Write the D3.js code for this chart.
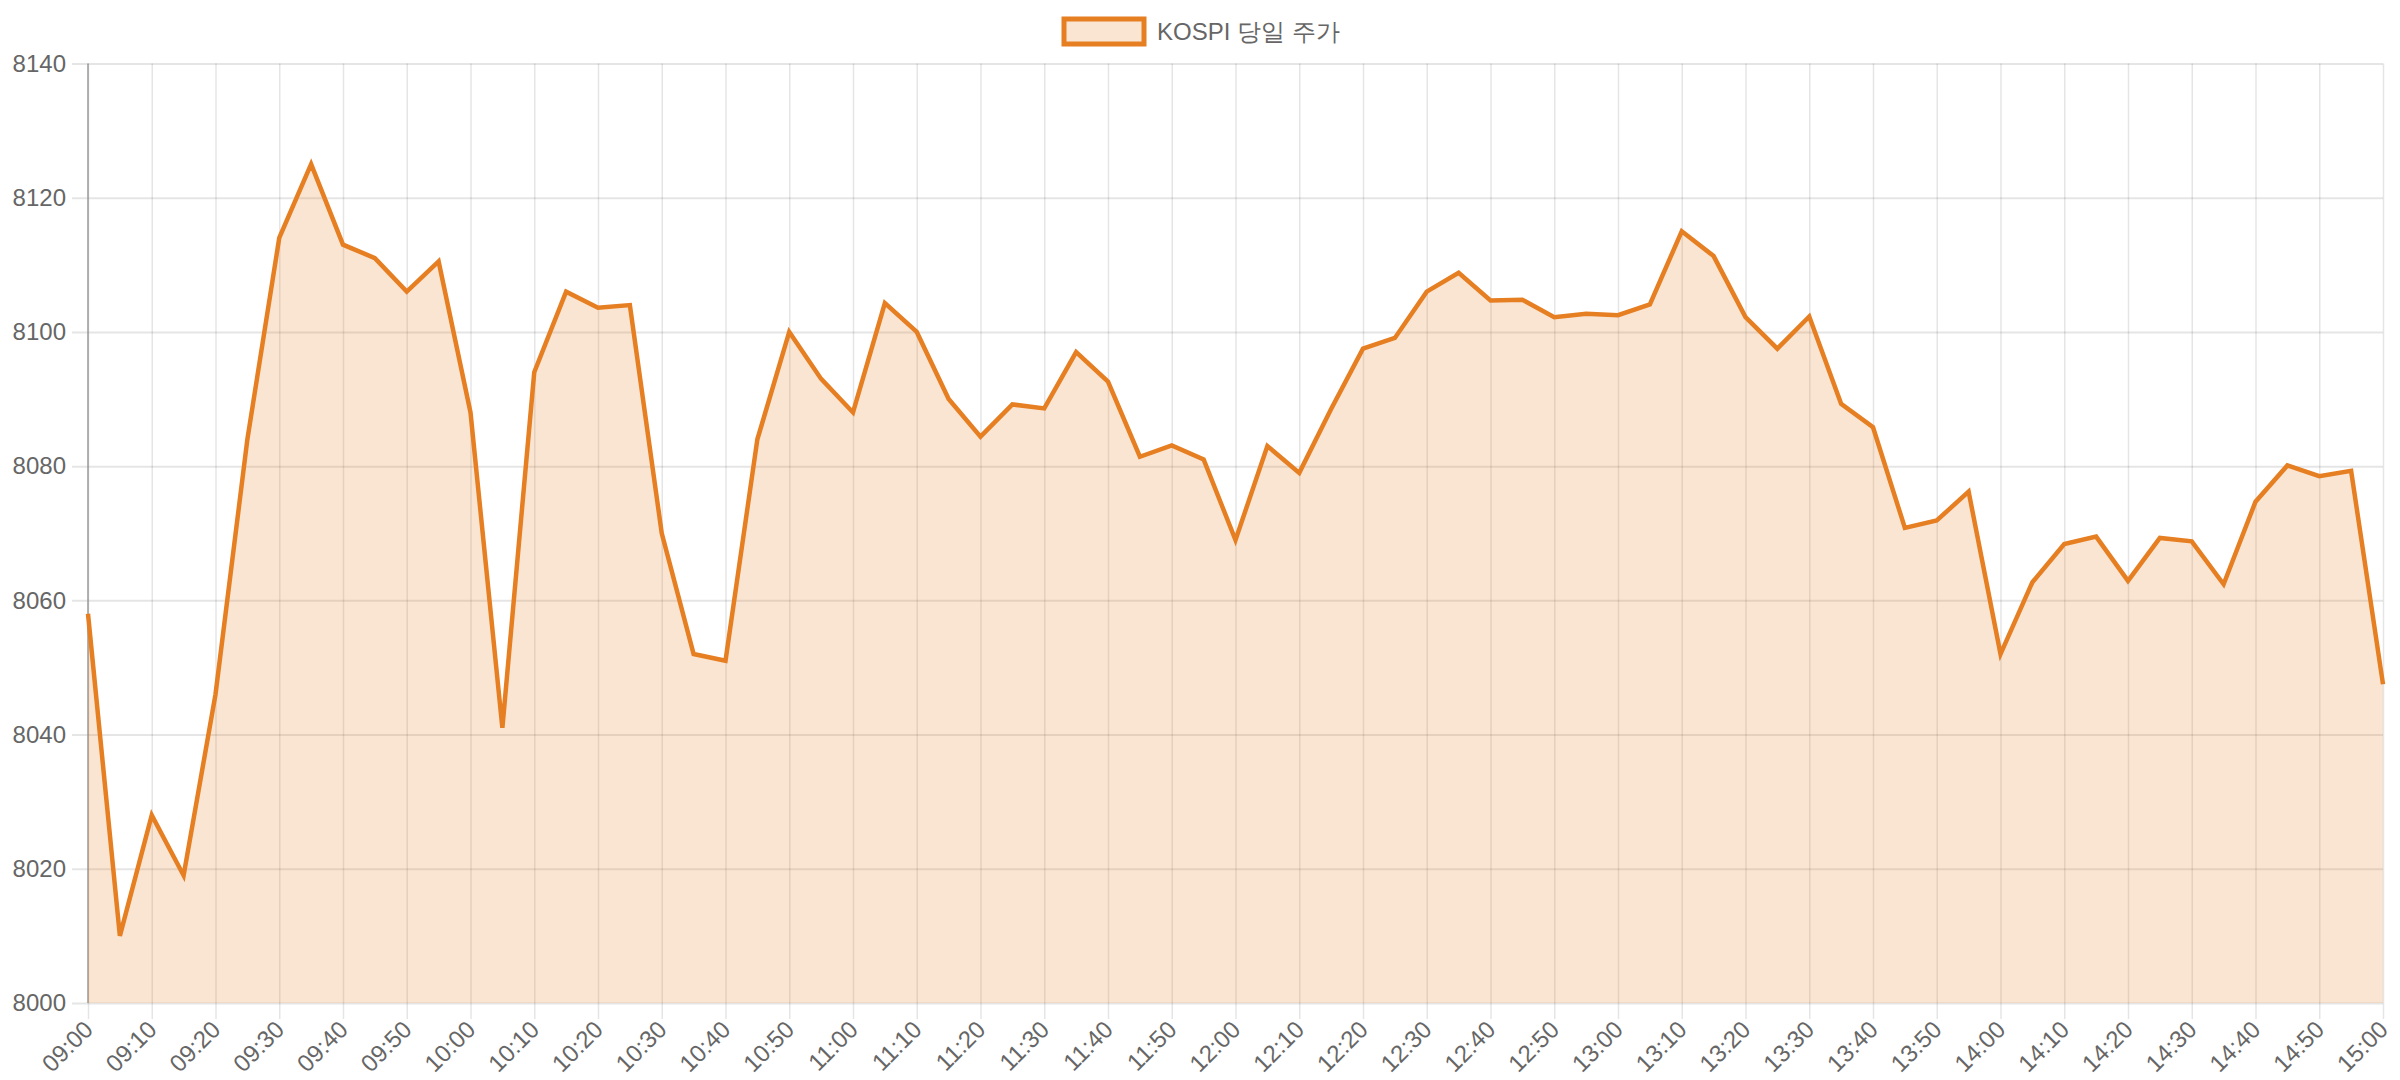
<!DOCTYPE html>
<html>
<head>
<meta charset="utf-8">
<script src="https://cdn.jsdelivr.net/npm/d3@7"></script>
<style>
  html, body { margin: 0; padding: 0; background: #fff; }
  svg { display: block; font-family: "Liberation Sans", Arial, Helvetica, sans-serif; }
</style>
</head>
<body>
<div id="chart"></div>
<script>
const width = 2400;
const height = 1080;

// chart values, 5 minute steps 09:00 .. 15:00
const seriesName = 'KOSPI 당일 주가';
const times = [];
for (let m = 9 * 60; m <= 15 * 60; m += 5) {
  times.push(String(Math.floor(m / 60)).padStart(2, '0') + ':' + String(m % 60).padStart(2, '0'));
}
const prices = [
  8058, 8010, 8028, 8019, 8046, 8084, 8114, 8125, 8113, 8111,
  8106, 8110.5, 8088, 8041, 8094, 8106, 8103.6, 8104, 8070, 8052,
  8051, 8084, 8100, 8093, 8088, 8104.3, 8100, 8090, 8084.4, 8089.2,
  8088.6, 8097, 8092.6, 8081.4, 8083.1, 8081, 8069, 8083, 8079, 8088.5,
  8097.5, 8099.1, 8106, 8108.8, 8104.7, 8104.8, 8102.2, 8102.7, 8102.5, 8104.1,
  8115, 8111.3, 8102.2, 8097.5, 8102.3, 8089.3, 8085.8, 8070.8, 8071.9, 8076.2,
  8052, 8062.7, 8068.4, 8069.5, 8062.9, 8069.3, 8068.8, 8062.4, 8074.7, 8080.1,
  8078.5, 8079.3, 8047.5
];
const yTicks = [8000, 8020, 8040, 8060, 8080, 8100, 8120, 8140];
const xTickLabels = times.filter((t, i) => i % 2 === 0);

// margins for the plot area
const margin = { top: 63.5, right: 17, bottom: 77, left: 88 };
const usableArea = {
  top: margin.top,
  right: width - margin.right,
  bottom: height - margin.bottom,
  left: margin.left,
};

const lineColor = '#e67e22';
const fillColor = 'rgba(230, 126, 34, 0.2)';
const gridColor = 'rgba(0, 0, 0, 0.1)';
const textColor = '#666';

const svg = d3
  .select('#chart')
  .append('svg')
  .attr('width', width)
  .attr('height', height);

const xScale = d3
  .scalePoint()
  .domain(times)
  .range([usableArea.left, usableArea.right]);

const yScale = d3
  .scaleLinear()
  .domain([8000, 8140])
  .range([usableArea.bottom, usableArea.top]);

// horizontal gridlines + y labels
const yAxis = d3.axisLeft(yScale)
  .tickValues(yTicks)
  .tickSize(-(usableArea.right - usableArea.left + 16))
  .tickFormat(d3.format('d'));

const yAxisG = svg.append('g')
  .attr('transform', `translate(${usableArea.left - 16}, 0)`)
  .call(yAxis);
yAxisG.select('.domain').remove();
yAxisG.selectAll('.tick line').attr('stroke', gridColor).attr('stroke-width', 2);
yAxisG.selectAll('.tick text')
  .attr('x', -6)
  .attr('fill', textColor)
  .style('font-size', '24px');

// vertical gridlines + time labels
const xAxis = d3.axisBottom(xScale)
  .tickValues(xTickLabels)
  .tickSize(-(usableArea.bottom - usableArea.top) - 16)
  .tickPadding(0);

const xAxisG = svg.append('g')
  .attr('transform', `translate(0, ${usableArea.bottom + 16})`)
  .call(xAxis);
xAxisG.select('.domain').remove();
xAxisG.selectAll('.tick line').attr('stroke', gridColor).attr('stroke-width', 1.5);
xAxisG.selectAll('.tick text')
  .attr('fill', textColor)
  .style('font-size', '24px')
  .attr('text-anchor', 'end')
  .attr('dy', '0.35em')
  .attr('transform', 'translate(0, 6) rotate(-45)')
  .attr('y', 0);

// left border line
svg.append('line')
  .attr('x1', usableArea.left).attr('x2', usableArea.left)
  .attr('y1', usableArea.top).attr('y2', usableArea.bottom)
  .attr('stroke', '#9a9a9a')
  .attr('stroke-width', 1.5);

// area + line
const area = d3.area()
  .x((d, i) => xScale(times[i]))
  .y0(yScale(8000))
  .y1((d) => yScale(d));

const line = d3.line()
  .x((d, i) => xScale(times[i]))
  .y((d) => yScale(d));

svg.append('path')
  .datum(prices)
  .attr('d', area)
  .attr('fill', fillColor);

svg.append('path')
  .datum(prices)
  .attr('d', line)
  .attr('fill', 'none')
  .attr('stroke', lineColor)
  .attr('stroke-width', 4.5)
  .attr('stroke-linejoin', 'miter');

// legend
const legend = svg.append('g').attr('transform', 'translate(1064, 19)');
legend.append('rect')
  .attr('x', 0).attr('y', 0)
  .attr('width', 80).attr('height', 25)
  .attr('fill', fillColor)
  .attr('stroke', lineColor)
  .attr('stroke-width', 5);
legend.append('text')
  .attr('x', 93)
  .attr('y', 13)
  .attr('dy', '0.35em')
  .attr('fill', textColor)
  .style('font-size', '24px')
  .text(seriesName);
</script>
</body>
</html>
